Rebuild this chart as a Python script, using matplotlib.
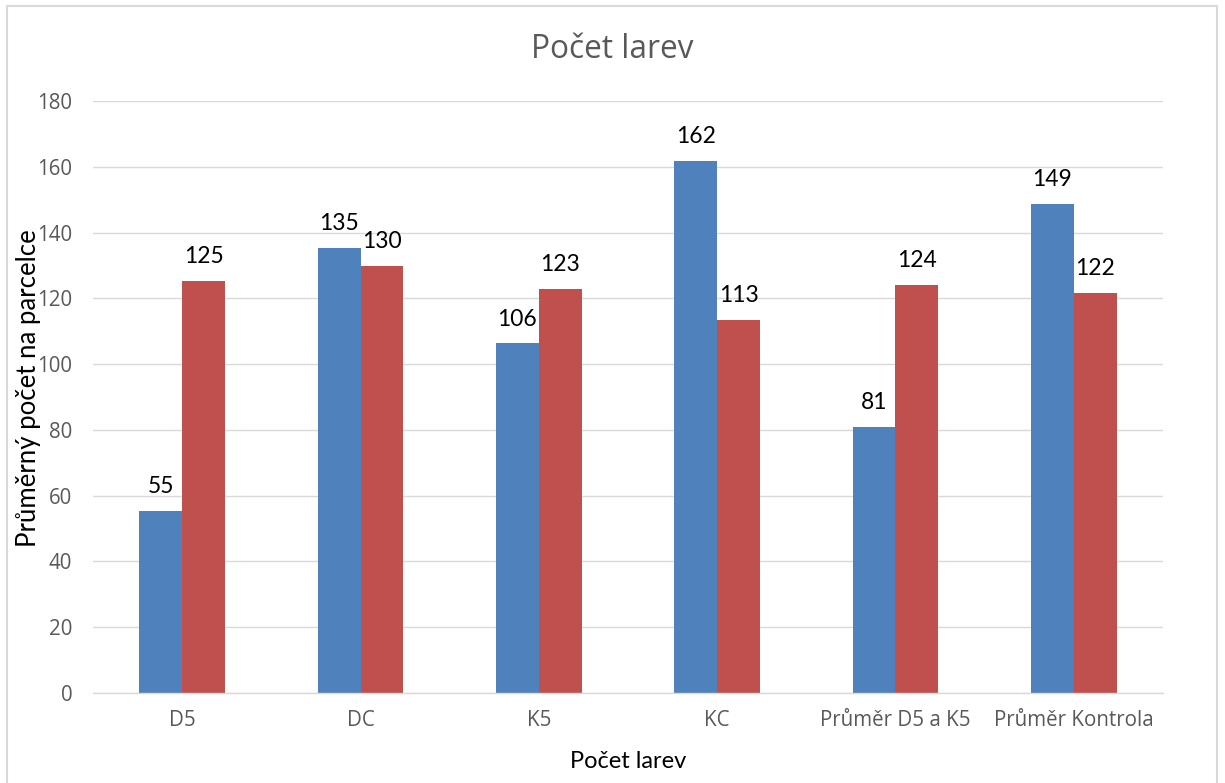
import matplotlib.pyplot as plt
from matplotlib.patches import Rectangle
import numpy as np

# Data
categories = ["D5", "DC", "K5", "KC", "Průměr D5 a K5", "Průměr Kontrola"]
series_a = [55.3, 135.4, 106.3, 161.7, 80.8, 148.6]   # blue
series_b = [125.3, 129.9, 122.9, 113.4, 124.1, 121.7]  # red
y_ticks = [0, 20, 40, 60, 80, 100, 120, 140, 160, 180]

plt.rcParams['font.family'] = ['Open Sans', 'DejaVu Sans']
label_font = ['Lato', 'DejaVu Sans']

fig = plt.figure(figsize=(12.25, 7.83), dpi=100)
ax = fig.add_axes([93 / 1225, 1 - 693 / 783, (1163 - 93) / 1225, (693 - 101) / 783])

x = np.arange(len(categories))
w = 0.24
bars_a = ax.bar(x - w / 2, series_a, w, color='#4F81BD')
bars_b = ax.bar(x + w / 2, series_b, w, color='#C0504D')

for bars in (bars_a, bars_b):
    for b in bars:
        h = b.get_height()
        ax.annotate(f"{h:.0f}", (b.get_x() + b.get_width() / 2, h),
                    xytext=(0, 10), textcoords='offset points',
                    ha='center', va='bottom', fontsize=16.5, color='black',
                    family=label_font)

ax.set_xlim(-0.5, len(categories) - 0.5)
ax.set_ylim(0, 180)
ax.set_yticks(y_ticks)
ax.set_xticks(x)
ax.set_xticklabels(categories)
ax.tick_params(axis='both', length=0, labelsize=14.8, colors='#595959')
ax.tick_params(axis='y', pad=15)
ax.tick_params(axis='x', pad=12)
ax.grid(axis='y', color='#D9D9D9', linewidth=1)
ax.set_axisbelow(True)
for s in ['top', 'right', 'left']:
    ax.spines[s].set_visible(False)
ax.spines['bottom'].set_color('#D9D9D9')
ax.spines['bottom'].set_linewidth(1)

fig.text(628 / 1225, 1 - 762 / 783, "Počet larev", ha='center', va='center',
         fontsize=17, color='black', family=label_font)
fig.text(29 / 1225, 1 - 388 / 783, "Průměrný počet na parcelce", rotation=90,
         ha='center', va='center', fontsize=18.5, color='black', family=label_font)
fig.text(612 / 1225, 1 - 50 / 783, "Počet larev", ha='center', va='center',
         fontsize=22.8, color='#595959')

fig.patches.append(Rectangle((7 / 1225, -0.01), (1217 - 7) / 1225, 1 - 6 / 783 + 0.01,
                             transform=fig.transFigure, fill=False,
                             edgecolor='#D9D9D9', linewidth=1.5))

fig.savefig("out.png", dpi=100)
